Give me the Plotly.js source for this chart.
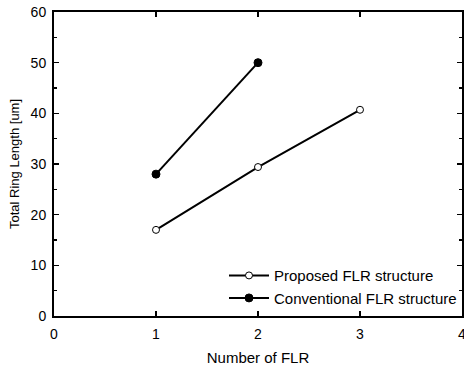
<!DOCTYPE html>
<html>
<head>
<meta charset="utf-8">
<script src="https://cdn.plot.ly/plotly-3.0.1.min.js"></script>
<style>html,body{margin:0;padding:0;background:#fff;}#chart{width:464px;height:366px;}</style>
</head>
<body>
<div id="chart"></div>
<script>
const proposedX = [1, 2, 3];
const proposedY = [17, 29.4, 40.7];
const conventionalX = [1, 2];
const conventionalY = [28, 50];
const seriesNames = ["Proposed FLR structure", "Conventional FLR structure"];

const fam = "Liberation Sans, Arial, sans-serif";
const font = {family: fam, color: "#000", size: 13};

const traces = [
  {
    x: proposedX, y: proposedY, name: seriesNames[0], type: "scatter", mode: "lines+markers",
    line: {color: "#000", width: 2},
    marker: {symbol: "circle", size: 7, color: "#fff", line: {color: "#000", width: 1}}
  },
  {
    x: conventionalX, y: conventionalY, name: seriesNames[1], type: "scatter", mode: "lines+markers",
    line: {color: "#000", width: 2},
    marker: {symbol: "circle", size: 8, color: "#000", line: {color: "#000", width: 1}}
  }
];

const axisCommon = {
  showgrid: false, zeroline: false, showline: true, linecolor: "#000", linewidth: 2,
  mirror: "ticks", ticks: "inside", ticklen: 5, tickwidth: 1.5, tickcolor: "#000",
  tickfont: {family: fam, color: "#000", size: 14}
};

const layout = {
  width: 464, height: 366,
  margin: {l: 54, r: 2, t: 12, b: 50},
  paper_bgcolor: "#fff", plot_bgcolor: "#fff",
  font: font,
  showlegend: true,
  legend: {x: 1.0, y: 0.006, xanchor: "right", yanchor: "bottom", bgcolor: "rgba(0,0,0,0)",
           font: {family: fam, size: 15, color: "#000"}, tracegroupgap: 0, itemwidth: 40},
  xaxis: Object.assign({}, axisCommon, {
    range: [0, 4], tickvals: [0, 1, 2, 3, 4], ticktext: ["0", "1", "2", "3", "4"],
    ticklabeloverflow: "allow", ticklabelstandoff: 4,
    title: {text: "Number of FLR", font: {family: fam, color: "#000", size: 15}, standoff: 12}
  }),
  yaxis: Object.assign({}, axisCommon, {
    range: [0, 60], dtick: 10, tick0: 0, ticklabelstandoff: 3,
    title: {text: "Total Ring Length [um]", font: font, standoff: 8},
    minor: {ticks: "inside", ticklen: 3, tickcolor: "#000", dtick: 5, tick0: 0}
  })
};

Plotly.newPlot("chart", traces, layout, {displayModeBar: false, staticPlot: true});
</script>
</body>
</html>
